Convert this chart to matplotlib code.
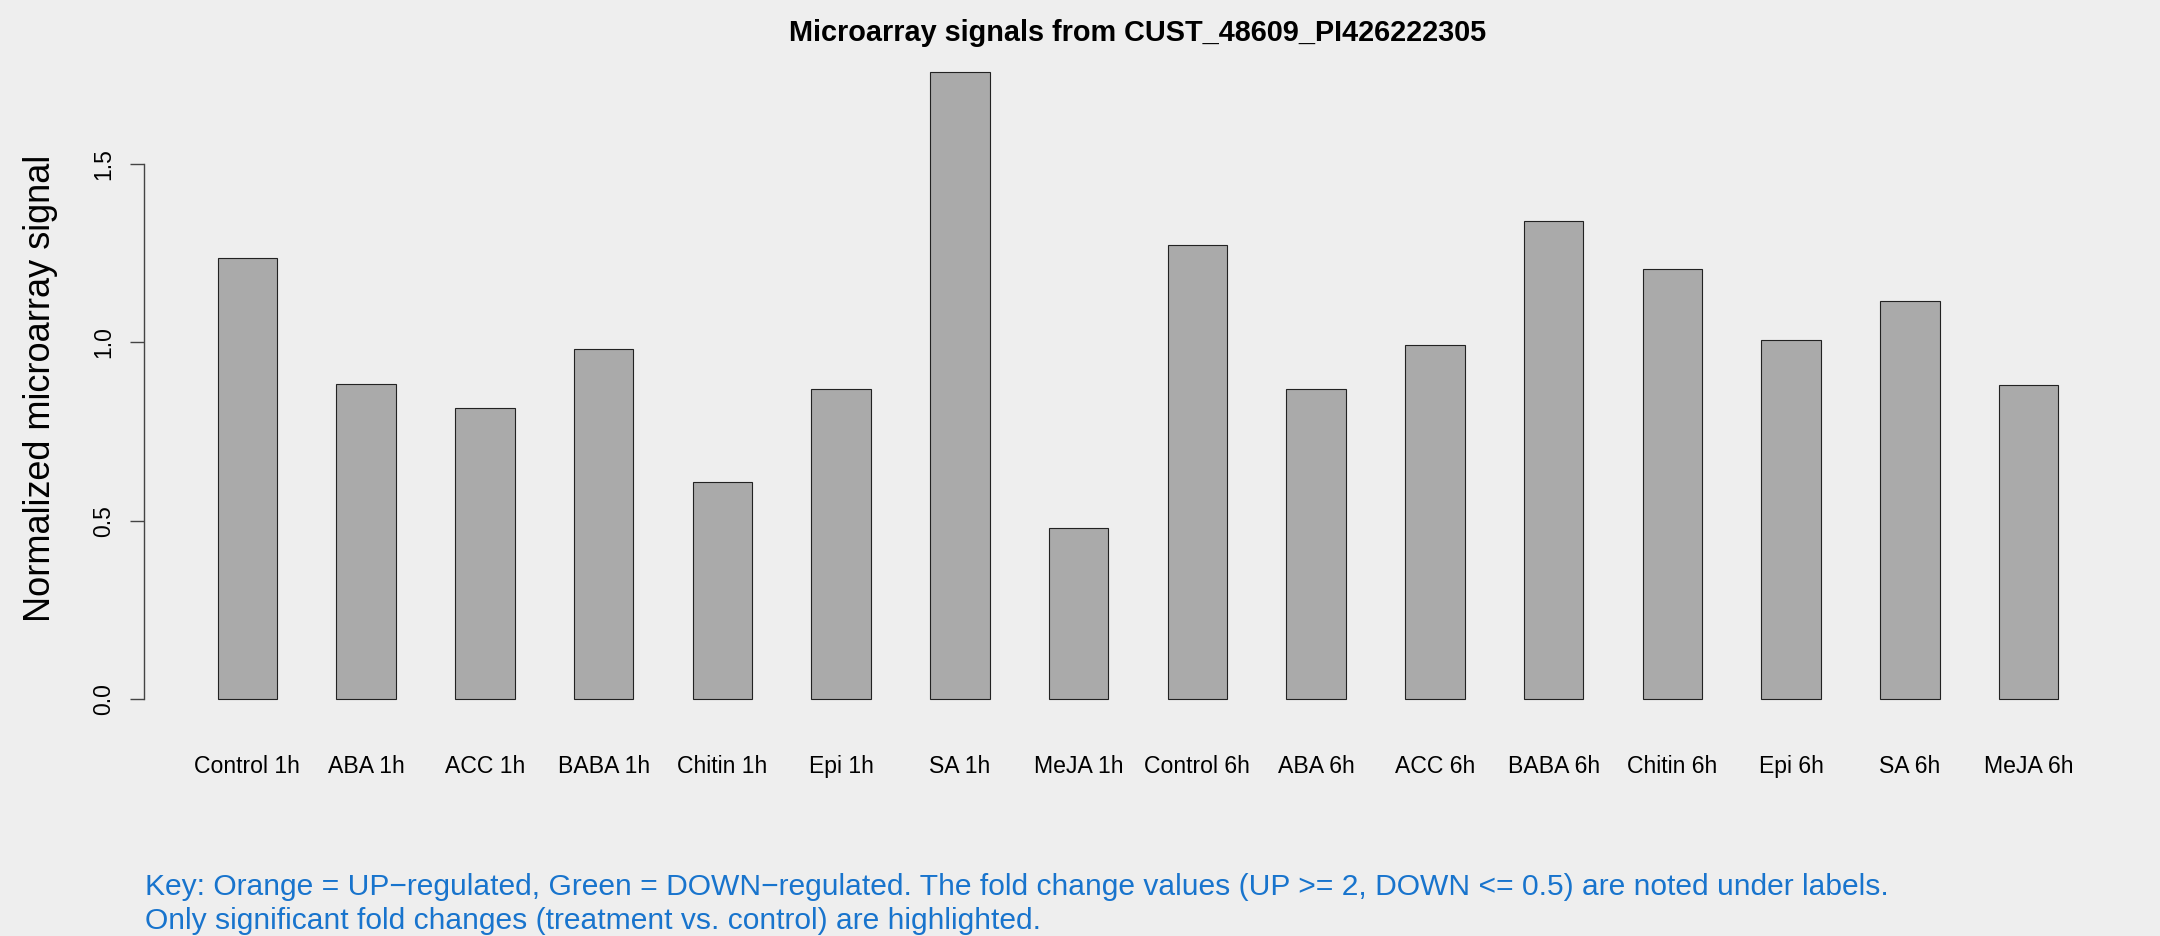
import matplotlib
matplotlib.use('Agg')
import matplotlib.pyplot as plt
import numpy as np

labels = ['Control 1h', 'ABA 1h', 'ACC 1h', 'BABA 1h', 'Chitin 1h', 'Epi 1h', 'SA 1h', 'MeJA 1h',
          'Control 6h', 'ABA 6h', 'ACC 6h', 'BABA 6h', 'Chitin 6h', 'Epi 6h', 'SA 6h', 'MeJA 6h']
signal = [1.237, 0.884, 0.816, 0.982, 0.607, 0.870, 1.758, 0.479,
          1.272, 0.870, 0.993, 1.341, 1.206, 1.005, 1.117, 0.881]
yticks = [0.0, 0.5, 1.0, 1.5]
title = 'Microarray signals from CUST_48609_PI426222305'
ylabel = 'Normalized microarray signal'
key_lines = ['Key: Orange = UP\u2212regulated, Green = DOWN\u2212regulated. '
             'The fold change values (UP >= 2, DOWN <= 0.5) are noted under labels.',
             'Only significant fold changes (treatment vs. control) are highlighted.']

plt.rcParams['font.family'] = ['Liberation Sans', 'DejaVu Sans']
bg = '#EEEEEE'

fig = plt.figure(figsize=(21.6, 9.36), dpi=100, facecolor=bg)
ax = fig.add_axes([144/2160, 1 - 724/936, (2132 - 144)/2160, (724 - 46.8)/936])
ax.set_facecolor(bg)

# R style barplot: width 1, space 1
n = len(signal)
x = np.arange(n) * 2 + 1.5
ax.bar(x, signal, width=1.0, color='#AAAAAA', edgecolor='#222222', linewidth=0.8)
span = 2 * n - 1
ax.set_xlim(1 - 0.04 * span, 2 * n + 0.04 * span)
ymax = max(signal)
ax.set_ylim(-0.04 * ymax, 1.04 * ymax)

for s in ['top', 'right', 'bottom']:
    ax.spines[s].set_visible(False)
ax.spines['left'].set_bounds(yticks[0], yticks[-1])
ax.spines['left'].set_color('#444444')
ax.spines['left'].set_linewidth(1.0)

ax.set_yticks(yticks)
ax.set_yticklabels(['%.1f' % v for v in yticks])
ax.tick_params(axis='y', length=10, width=1.0, color='#444444', pad=11, labelsize=16.5)
for lab in ax.get_yticklabels():
    lab.set_rotation(90)
    lab.set_va('center')

ax.set_xticks(x)
ax.set_xticklabels(labels)
ax.tick_params(axis='x', length=0, pad=22, labelsize=16.6)

ax.set_title(title, fontsize=20.8, fontweight='bold', pad=0.5)
fig.text(41/2160, 1 - 388/936, ylabel, rotation=90, ha='center', va='center', fontsize=26)

key_y = [895, 929]
for line, yy in zip(key_lines, key_y):
    fig.text(145/2160, 1 - yy/936, line, ha='left', va='baseline', fontsize=21.6, color='#1874CD')

fig.savefig('out.png', dpi=100, facecolor=bg)
